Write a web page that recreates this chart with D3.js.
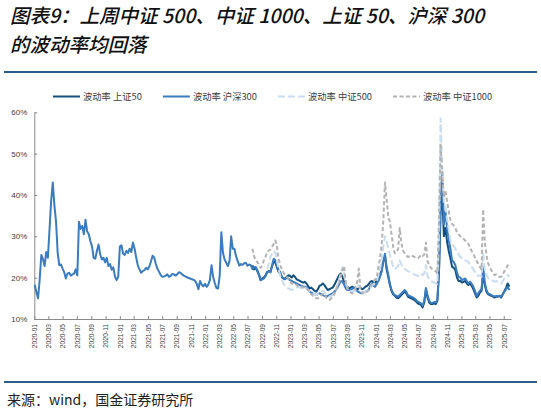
<!DOCTYPE html>
<html><head><meta charset="utf-8">
<script src="https://cdn.jsdelivr.net/npm/d3@7"></script>
<style>body{margin:0;background:#fff} svg{display:block}</style>
</head><body><svg id="c" width="541" height="414"></svg>
<script>
// ---------- DATA (implied volatility, %, weekly readings) ----------
const seriesNames = ["波动率 上证50", "波动率 沪深300", "波动率 中证500", "波动率 中证1000"];

const hs300Start = "2020-01-03";
const hs300 = [
18.3,16.5,15.0,19.5,25.5,24.5,22.8,26.2,24.8,31.5,
38.5,43.0,37.5,33.5,26.0,23.0,23.2,22.2,21.3,19.8,
21.0,21.2,20.5,20.8,21.0,22.0,20.5,33.5,31.8,32.5,
30.5,34.0,31.2,30.5,28.8,27.5,24.8,24.6,26.5,28.0,
25.6,24.4,24.8,23.7,24.8,22.8,23.3,21.9,22.5,20.3,
19.4,20.2,27.5,27.8,25.8,25.5,26.5,26.0,27.0,26.2,
28.5,27.0,24.8,22.9,22.0,21.2,21.6,21.8,22.4,22.0,
22.7,23.9,25.3,24.9,23.3,22.1,21.4,20.6,20.2,20.3,
20.5,20.8,20.2,20.4,20.9,20.8,20.5,20.8,21.3,21.2,
20.8,20.5,20.3,20.1,19.9,19.8,19.6,19.5,19.2,18.5,
17.2,19.2,18.3,17.9,18.5,17.8,18.3,19.4,23.0,20.2,
18.7,17.5,17.4,20.5,31.0,26.0,24.4,23.6,22.8,24.0,
30.0,27.0,27.0,25.2,24.0,22.9,23.3,23.1,23.5,23.6,
22.9,23.2,23.0,22.1,22.5,22.6,21.8,20.8,19.4,19.6,
19.8,20.3,21.3,21.5,21.3,23.0,24.6,24.2,23.0,21.8,
21.4,20.1,19.7,19.6,20.1,19.7,19.4,19.2,19.0,18.8,
18.6,18.4,18.2,18.0,17.8,17.8,17.7,17.2,16.6,16.4,
16.2,16.0,15.8,16.0,16.2,16.0,15.8,15.6,15.4,15.6,
15.8,16.0,16.2,16.6,17.0,17.6,18.4,19.2,19.1,18.3,
17.4,17.0,17.0,17.1,17.3,17.6,17.0,16.8,16.5,16.3,
16.2,16.5,16.6,16.8,17.0,18.0,18.5,18.0,17.8,18.5,
19.2,20.2,21.5,24.0,25.8,22.5,20.8,18.5,17.0,16.2,
15.8,15.6,15.4,15.8,16.2,16.6,17.0,16.6,15.8,15.6,
15.4,15.2,15.0,14.6,14.2,14.0,13.8,13.2,14.4,17.5,
15.8,14.4,13.9,13.9,14.1,14.0,14.6,22.0,40.0,45.5,
33.0,36.0,31.5,29.0,27.0,24.2,23.8,23.0,21.2,20.2,
20.0,19.4,19.6,19.8,19.2,18.6,19.0,18.5,17.8,16.8,
15.6,16.2,16.8,17.2,22.5,18.8,17.0,16.2,16.0,15.8,
15.6,15.4,15.6,15.5,15.6,15.4,16.0,16.6,17.2,17.8,17.0
];

const sz50Start = "2022-07-22";
const sz50 = [
23.0,22.0,22.4,21.6,20.6,19.4,19.8,20.0,20.6,21.4,
21.6,21.4,22.8,24.0,23.6,22.5,21.4,21.0,20.2,19.8,
19.8,20.2,20.6,20.4,20.0,20.6,20.2,19.6,19.4,19.2,
19.0,18.8,19.0,18.6,18.0,17.4,17.6,17.2,16.8,16.6,
17.2,18.0,18.2,18.6,18.2,17.6,17.0,17.2,17.4,17.6,
18.2,19.0,19.8,20.6,21.0,20.2,19.0,18.2,17.8,17.4,
17.6,17.8,17.6,17.4,17.2,17.4,17.6,17.2,17.4,17.8,
18.0,18.4,19.0,19.2,18.8,18.6,19.4,20.0,20.6,22.0,
24.2,25.0,22.0,20.2,18.2,16.8,16.0,15.6,15.2,15.0,
15.4,15.8,16.2,16.6,16.2,15.4,15.2,15.0,14.8,14.6,
14.2,13.8,13.6,13.4,12.8,14.0,17.0,15.2,14.0,13.6,
13.6,13.8,13.6,14.4,21.0,36.0,40.0,30.0,32.0,28.5,
26.4,24.6,22.6,22.4,21.8,20.0,19.2,19.2,18.8,19.0,
19.2,18.6,18.2,18.6,18.0,17.2,16.2,15.2,15.6,16.4,
16.8,21.0,18.2,16.6,16.0,15.8,15.6,15.4,15.2,15.4,
15.4,15.6,15.2,16.0,16.8,17.6,18.6,17.8
];

const csi500Start = "2022-09-23";
const csi500 = [
22.0,23.5,25.0,25.8,26.5,26.0,24.0,22.0,20.5,19.5,
18.6,18.0,17.6,17.4,17.2,17.0,17.2,17.4,17.6,17.8,
17.6,17.4,17.2,17.6,17.4,17.0,16.6,16.4,16.2,16.0,
15.8,16.0,16.4,16.6,16.8,16.6,16.0,15.6,15.4,15.6,
15.8,16.4,17.2,18.4,19.6,21.0,22.6,21.0,18.6,17.6,
17.0,16.8,16.6,16.8,17.0,17.4,18.2,17.0,16.4,16.6,
16.6,16.8,17.0,17.6,18.0,18.4,18.8,19.2,20.6,22.0,
24.4,27.5,30.0,29.0,27.0,25.5,24.0,22.5,22.0,22.4,
22.8,24.2,23.2,22.6,22.2,21.8,21.6,21.4,21.2,21.0,
20.8,20.6,20.4,20.6,21.0,20.6,21.0,23.0,20.4,19.6,
19.2,19.0,18.8,18.6,18.4,30.0,58.5,46.0,38.0,37.0,
34.0,31.5,29.0,28.2,27.6,27.0,26.2,25.6,25.0,24.8,
24.6,24.2,24.0,23.8,23.0,22.6,22.0,21.4,20.8,20.4,
20.6,20.2,26.0,22.0,20.6,20.0,19.6,19.4,19.2,19.0,
19.2,19.0,18.8,18.6,19.2,19.8,20.2,20.6,20.2
];

const csi1000Start = "2022-07-22";
const csi1000 = [
27.0,25.2,24.2,23.8,23.2,22.4,23.0,24.2,25.0,26.2,
26.6,26.8,27.5,28.2,29.0,27.5,24.5,23.0,22.0,21.2,
20.6,20.2,19.8,19.0,18.6,18.4,18.6,18.2,18.0,17.8,
17.8,17.6,17.8,17.4,17.0,16.4,16.0,15.6,15.4,15.0,
15.0,15.4,15.8,16.0,16.2,15.2,14.8,14.6,15.0,15.2,
16.0,16.8,18.0,19.0,20.5,21.8,22.8,19.0,17.4,16.8,
16.4,16.2,16.8,17.4,19.0,22.2,17.0,16.2,16.2,16.4,
16.6,17.0,17.8,18.4,19.0,19.6,20.0,22.6,24.8,28.0,
34.0,43.0,39.0,34.5,33.6,30.5,27.5,25.9,26.4,26.8,
32.0,28.4,26.6,25.9,25.4,25.0,25.2,25.4,25.2,25.0,
24.8,24.7,25.0,25.5,25.2,25.6,28.5,24.0,23.0,22.4,
22.0,21.8,21.5,21.0,34.0,52.5,44.5,39.5,41.0,38.2,
36.0,34.0,33.0,32.6,32.0,31.0,30.5,30.0,29.8,29.4,
29.0,28.6,28.2,27.2,26.4,25.8,24.8,24.0,23.4,22.6,
22.0,36.5,28.5,25.5,23.5,22.6,21.8,21.2,20.6,20.8,
20.4,20.2,20.2,20.8,21.6,22.2,23.0,22.2
];

const yTickValues = [10, 20, 30, 40, 50, 60];
const xTickLabels = [
"2020-01","2020-03","2020-05","2020-07","2020-09","2020-11",
"2021-01","2021-03","2021-05","2021-07","2021-09","2021-11",
"2022-01","2022-03","2022-05","2022-07","2022-09","2022-11",
"2023-01","2023-03","2023-05","2023-07","2023-09","2023-11",
"2024-01","2024-03","2024-05","2024-07","2024-09","2024-11",
"2025-01","2025-03","2025-05","2025-07"
];
const titleLines = ["图表9：上周中证 500、中证 1000、上证 50、沪深 300", "的波动率均回落"];
const sourceText = "来源：wind，国金证券研究所";

// ---------- BUILD ----------
const parse = d3.timeParse("%Y-%m-%d");
const parseMonth = d3.timeParse("%Y-%m");
function weekly(start, vals) {
  const s = parse(start);
  return vals.map((v, k) => ({date: d3.timeDay.offset(s, 7 * k), value: v}));
}
const series = [
  {name: seriesNames[0], data: weekly(sz50Start, sz50),       color: "#12507f", width: 2, dash: null},
  {name: seriesNames[1], data: weekly(hs300Start, hs300),     color: "#3b7bbf", width: 2, dash: null},
  {name: seriesNames[2], data: weekly(csi500Start, csi500),   color: "#cadcf0", width: 2, dash: "7,3"},
  {name: seriesNames[3], data: weekly(csi1000Start, csi1000), color: "#b3b3b3", width: 2, dash: "4,2.5"}
];

const svg = d3.select("#c");
const plot = {left: 34.3, right: 511, top: 112.3, bottom: 319};

// Title
const title = svg.append("g");
titleLines.forEach((t, i) => {
  title.append("text")
    .attr("x", 10).attr("y", 23 + i * 29)
    .attr("font-family", "'Noto Sans CJK SC', sans-serif")
    .attr("font-size", 19.5).attr("font-weight", 500).attr("font-style", "italic")
    .attr("fill", "#111").text(t);
});
// rules
svg.append("line").attr("x1", 4).attr("x2", 537).attr("y1", 72).attr("y2", 72)
  .attr("stroke", "#2b5d86").attr("stroke-width", 2);
svg.append("line").attr("x1", 4).attr("x2", 537).attr("y1", 382).attr("y2", 382)
  .attr("stroke", "#2b5d86").attr("stroke-width", 2);

// Scales
const x = d3.scaleTime().domain([new Date(2020, 0, 1), new Date(2025, 7, 1)]).range([plot.left, plot.right]);
const y = d3.scaleLinear().domain([10, 60]).range([plot.bottom, plot.top]);

// Axes
const yAxis = svg.append("g").attr("transform", `translate(${plot.left},0)`)
  .call(d3.axisLeft(y).tickValues(yTickValues).tickFormat(d => d + "%").tickSizeInner(-3).tickSizeOuter(0).tickPadding(7));
const xAxis = svg.append("g").attr("transform", `translate(0,${plot.bottom})`)
  .call(d3.axisBottom(x).tickValues(xTickLabels.map(parseMonth)).tickFormat(d3.timeFormat("%Y-%m")).tickSizeInner(-3).tickSizeOuter(0));
[yAxis, xAxis].forEach(a => {
  a.select(".domain").attr("stroke", "#8a8a8a");
  a.selectAll(".tick line").attr("stroke", "#8a8a8a");
  a.selectAll("text").attr("fill", "#404040").attr("font-family", "'Liberation Sans', Arial, sans-serif");
});
yAxis.selectAll("text").attr("font-size", 8);
xAxis.selectAll("text").attr("font-size", 6.6)
  .attr("transform", "rotate(-90)").attr("text-anchor", "end")
  .attr("x", -5).attr("y", 0).attr("dy", "0.35em");

// Lines
const line = d3.line().x(d => x(d.date)).y(d => y(d.value));
svg.append("g").selectAll("path").data(series).join("path")
  .attr("d", d => line(d.data))
  .attr("fill", "none")
  .attr("stroke", d => d.color)
  .attr("stroke-width", d => d.width)
  .attr("stroke-dasharray", d => d.dash)
  .attr("stroke-linejoin", "round");

// Legend
const legend = svg.append("g");
let lx = 53;
const ly = 96.5;
series.forEach(s => {
  legend.append("line").attr("x1", lx).attr("x2", lx + 27).attr("y1", ly).attr("y2", ly)
    .attr("stroke", s.color).attr("stroke-width", s.width).attr("stroke-dasharray", s.dash);
  const t = legend.append("text").attr("x", lx + 30).attr("y", ly).attr("dy", "0.35em")
    .attr("font-family", "'Noto Sans CJK SC', sans-serif").attr("font-size", 9.3)
    .attr("fill", "#404040").text(s.name);
  lx += 30 + t.node().getComputedTextLength() + 21;
});

// Source
svg.append("text").attr("x", 7).attr("y", 405)
  .attr("font-family", "'Noto Sans CJK SC', sans-serif").attr("font-size", 14)
  .attr("fill", "#222").text(sourceText);
</script>
</body></html>
